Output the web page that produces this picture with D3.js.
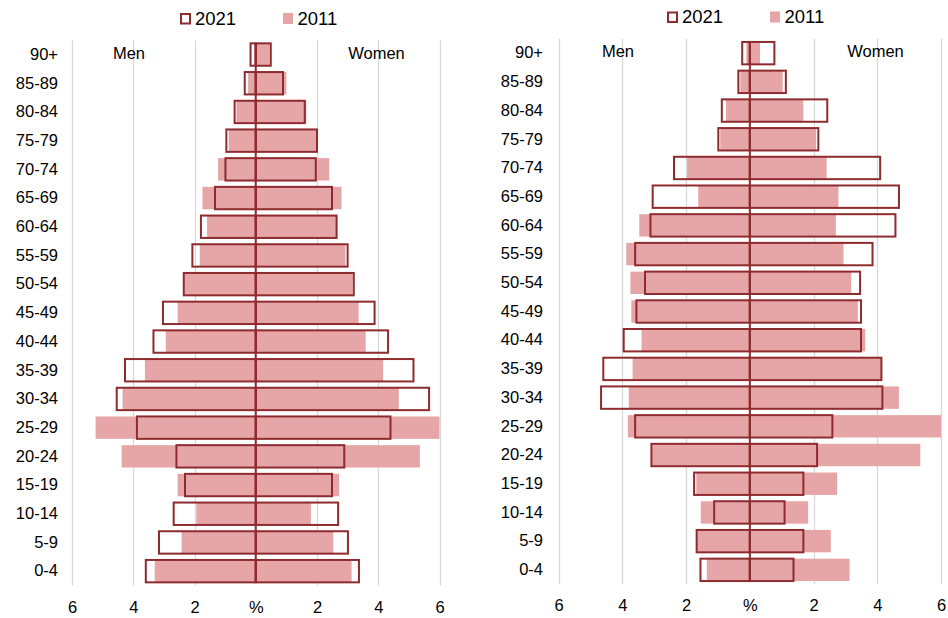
<!DOCTYPE html>
<html>
<head>
<meta charset="utf-8">
<script src="https://cdn.jsdelivr.net/npm/d3@7"></script>
<style>
  html, body { margin: 0; padding: 0; background: #fff; }
  svg { display: block; font-family: "Liberation Sans", Arial, sans-serif; }
</style>
</head>
<body>
<svg id="chart" width="948" height="618"></svg>
<script>
// Age groups, top to bottom
const categories = ["90+","85-89","80-84","75-79","70-74","65-69","60-64","55-59","50-54","45-49","40-44","35-39","30-34","25-29","20-24","15-19","10-14","5-9","0-4"];
const tickValues = [-6, -4, -2, 0, 2, 4, 6];
const seriesNames = ["2021", "2011"];

// Left pyramid (%)
const leftMen2021   = [0.17,0.36,0.69,0.96,0.99,1.33,1.79,2.07,2.35,3.03,3.34,4.27,4.54,3.88,2.59,2.31,2.68,3.16,3.59];
const leftWomen2021 = [0.49,0.89,1.60,2.00,1.96,2.49,2.64,3.00,3.20,3.88,4.32,5.15,5.66,4.40,2.89,2.49,2.69,3.01,3.37];
const leftMen2011   = [0.05,0.25,0.63,0.88,1.23,1.74,1.59,1.83,2.33,2.55,2.94,3.62,4.35,5.23,4.38,2.55,1.94,2.42,3.30];
const leftWomen2011 = [0.45,1.00,1.65,2.00,2.40,2.80,2.64,2.93,3.16,3.36,3.59,4.16,4.67,6.00,5.36,2.72,1.80,2.53,3.13];

// Right pyramid (%)
const rightMen2021   = [0.24,0.36,0.88,0.99,2.38,3.05,3.12,3.60,3.29,3.56,3.96,4.60,4.67,3.60,3.09,1.75,1.12,1.67,1.55];
const rightWomen2021 = [0.77,1.13,2.43,2.15,4.09,4.68,4.57,3.85,3.46,3.49,3.49,4.13,4.16,2.59,2.11,1.68,1.09,1.68,1.37];
const rightMen2011   = [0.11,0.30,0.75,0.93,1.97,1.62,3.47,3.88,3.75,3.72,3.40,3.68,3.80,3.83,3.09,1.68,1.54,1.66,1.35];
const rightWomen2011 = [0.32,1.03,1.68,2.08,2.41,2.78,2.70,2.94,3.18,3.39,3.62,4.13,4.68,6.00,5.35,2.74,1.83,2.54,3.13];

const DARK = "#8E2B2E";
const FILL = "#E6A6A8";
const GRID = "#D9D9D9";

const svg = d3.select("#chart");

function drawPanel(cfg) {
  const g = svg.append("g");
  const x = d3.scaleLinear().domain([-6, 6]).range([cfg.x0, cfg.x1]);
  const y = d3.scaleBand().domain(categories).range([cfg.y0, cfg.y1])
    .paddingInner(0.22).paddingOuter(0.11);

  // gridlines
  g.append("g").selectAll("line")
    .data(tickValues.filter(v => v !== 0))
    .join("line")
    .attr("x1", d => Math.round(x(d)) + 0.5).attr("x2", d => Math.round(x(d)) + 0.5)
    .attr("y1", cfg.y0).attr("y2", cfg.y1)
    .attr("stroke", GRID).attr("stroke-width", 1.3);

  const rows = categories.map((c, i) => ({
    cat: c, m21: cfg.m21[i], w21: cfg.w21[i], m11: cfg.m11[i], w11: cfg.w11[i]
  }));

  // 2011 filled bars
  g.append("g").selectAll("rect.m11").data(rows).join("rect")
    .attr("x", d => x(-d.m11)).attr("width", d => x(0) - x(-d.m11))
    .attr("y", d => y(d.cat)).attr("height", y.bandwidth())
    .attr("fill", FILL);
  g.append("g").selectAll("rect.w11").data(rows).join("rect")
    .attr("x", x(0)).attr("width", d => x(d.w11) - x(0))
    .attr("y", d => y(d.cat)).attr("height", y.bandwidth())
    .attr("fill", FILL);

  // 2021 outlined bars
  g.append("g").selectAll("rect.m21").data(rows).join("rect")
    .attr("x", d => x(-d.m21)).attr("width", d => x(0) - x(-d.m21))
    .attr("y", d => y(d.cat)).attr("height", y.bandwidth())
    .attr("fill", "none").attr("stroke", DARK).attr("stroke-width", 2);
  g.append("g").selectAll("rect.w21").data(rows).join("rect")
    .attr("x", x(0)).attr("width", d => x(d.w21) - x(0))
    .attr("y", d => y(d.cat)).attr("height", y.bandwidth())
    .attr("fill", "none").attr("stroke", DARK).attr("stroke-width", 2);

  // centre axis line
  g.append("line")
    .attr("x1", x(0)).attr("x2", x(0))
    .attr("y1", y(categories[0])).attr("y2", y(categories[categories.length - 1]) + y.bandwidth())
    .attr("stroke", DARK).attr("stroke-width", 2);

  // category axis
  const yAxis = g.append("g")
    .attr("transform", `translate(${cfg.labelX},0)`)
    .call(d3.axisLeft(y).tickSize(0).tickPadding(0));
  yAxis.select(".domain").remove();
  yAxis.selectAll("text").attr("font-size", 16.5).attr("fill", "#000")
    .attr("font-family", "'Liberation Sans', Arial, sans-serif");

  // value axis
  const xAxis = g.append("g")
    .attr("transform", `translate(0,${cfg.tickY})`)
    .call(d3.axisBottom(x).tickValues(tickValues).tickSize(0).tickPadding(0)
      .tickFormat(d => d === 0 ? "%" : Math.abs(d)));
  xAxis.select(".domain").remove();
  xAxis.selectAll("text").attr("font-size", 16.5).attr("fill", "#000")
    .attr("dy", "0.35em").attr("y", 0)
    .attr("font-family", "'Liberation Sans', Arial, sans-serif");

  // Men / Women labels
  g.append("text").attr("x", cfg.menX).attr("y", cfg.sexY).attr("dy", "0.35em")
    .attr("text-anchor", "middle").attr("font-size", 16.5).text("Men");
  g.append("text").attr("x", cfg.womenX).attr("y", cfg.sexY).attr("dy", "0.35em")
    .attr("text-anchor", "middle").attr("font-size", 16.5).text("Women");

  // legend
  const lg = g.append("g");
  lg.append("rect").attr("x", cfg.legX + 1).attr("y", cfg.legY - 4.5)
    .attr("width", 9).attr("height", 9.5)
    .attr("fill", "#fff").attr("stroke", DARK).attr("stroke-width", 2);
  lg.append("text").attr("x", cfg.legX + 15).attr("y", cfg.legY).attr("dy", "0.35em")
    .attr("font-size", 18.5).text(seriesNames[0]);
  lg.append("rect").attr("x", cfg.legX + 103).attr("y", cfg.legY - 5.5)
    .attr("width", 10).attr("height", 11).attr("fill", FILL);
  lg.append("text").attr("x", cfg.legX + 117.5).attr("y", cfg.legY).attr("dy", "0.35em")
    .attr("font-size", 18.5).text(seriesNames[1]);
}

drawPanel({
  x0: 72, x1: 439.5, y0: 40.2, y1: 585.5, labelX: 58, tickY: 607,
  menX: 129, womenX: 376.5, sexY: 53,
  legX: 180, legY: 18.5,
  m21: leftMen2021, w21: leftWomen2021, m11: leftMen2011, w11: leftWomen2011
});

drawPanel({
  x0: 558.7, x1: 941, y0: 38.8, y1: 584.2, labelX: 543, tickY: 605,
  menX: 618, womenX: 875.5, sexY: 51,
  legX: 667, legY: 17,
  m21: rightMen2021, w21: rightWomen2021, m11: rightMen2011, w11: rightWomen2011
});
</script>
</body>
</html>
